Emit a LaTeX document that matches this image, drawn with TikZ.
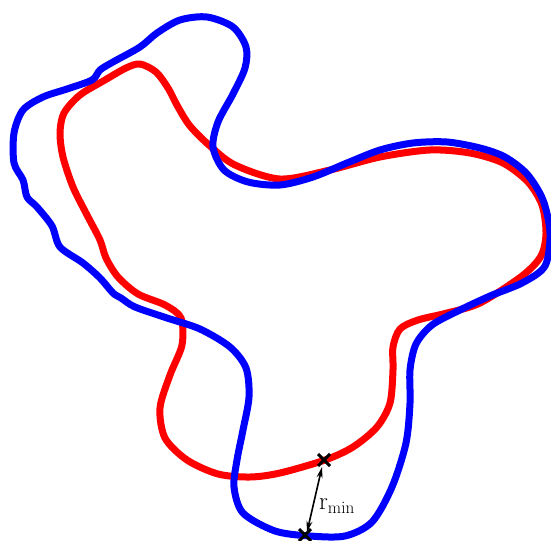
\documentclass[tikz,border=0pt]{standalone}
\usetikzlibrary{arrows.meta}
\definecolor{cred}{RGB}{255,0,0}
\definecolor{cblue}{RGB}{0,0,255}
\begin{document}
\begin{tikzpicture}[x=1bp,y=-1bp,
  curve/.style={line width=7bp,line join=round},
  xmark/.style={line width=3bp,black},
  gap/.style={line width=1.6bp,black,{Stealth[length=11bp,width=6bp]}-{Stealth[length=11bp,width=6bp]}}]
\useasboundingbox (0,0) rectangle (551,541);
\begin{scope}
\clip (0,0) rectangle (551,541);
\draw[curve,cred] plot[smooth cycle,tension=0.5] coordinates {
(140,64)(156,72)(168,88)(178,107)(190,126)(210,146)(235,165)(280,179)(330,170)(380,157)(430,150)(470,153)(503,163)(528,182)(542,205)(546,233)(541,256)(522,276)(480,303)(447,313)(418,320)(400,329)(393,347)(393,370)(390,403)(377,427)(353,447)(325,460)(280,473)(250,477)(218,474)(187,460)(165,438)(160,408)(170,375)(182,345)(181,318)(165,305)(138,294)(118,277)(106,258)(100,240)(87,215)(73,187)(63,157)(60,133)(64,113)(80,95)(105,80)(126,68)};
\draw[curve,cblue] plot[smooth cycle,tension=0.5] coordinates {
(246,47)(233,27)(207,17)(180,20)(157,33)(140,47)(113,62)(100,70)(92,80)(67,89)(43,97)(23,110)(14,133)(14,163)(23,180)(27,197)(37,207)(52,226)(60,247)(83,263)(100,278)(113,293)(121,298)(135,307)(167,318)(200,329)(230,347)(246,368)(249,397)(243,430)(237,460)(234,487)(243,513)(275,531)(310,536)(345,536)(372,522)(392,487)(406,443)(410,403)(410,370)(416,344)(432,325)(460,310)(490,296)(522,283)(545,266)(550,233)(543,200)(527,174)(505,157)(480,148)(447,142)(413,143)(380,150)(347,163)(313,177)(280,185)(248,182)(224,170)(213,147)(218,122)(233,94)(245,68)};
\end{scope}
\coordinate (pr) at (324,460);
\coordinate (pb) at (305,535);
\draw[xmark] ([shift={(-6,-6)}]pr) -- ([shift={(6,6)}]pr) ([shift={(6,-6)}]pr) -- ([shift={(-6,6)}]pr);
\draw[xmark] ([shift={(-6,-6)}]pb) -- ([shift={(6,6)}]pb) ([shift={(6,-6)}]pb) -- ([shift={(-6,6)}]pb);
\coordinate (ar) at (322,467);
\coordinate (ab) at (307,532);
\draw[gap] (ar) -- (ab);
\node[anchor=west,inner sep=0pt,font=\fontsize{23}{25}\selectfont] (lbl) at (319,506) {$\mathrm{r}_{\mathrm{min}}$};
\end{tikzpicture}
\end{document}
